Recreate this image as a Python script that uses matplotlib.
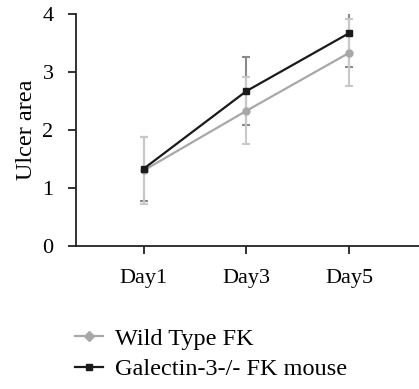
import matplotlib.pyplot as plt
from matplotlib.lines import Line2D

# data
days = ["Day1", "Day3", "Day5"]
wild_type = [1.30, 2.33, 3.33]
wild_type_err = [0.58, 0.58, 0.58]
galectin = [1.33, 2.67, 3.67]
galectin_err = [0.55, 0.58, 0.58]

plt.rcParams['font.family'] = ['Liberation Serif', 'DejaVu Serif']

fig = plt.figure(figsize=(4.19, 3.89), dpi=100)
ax = fig.add_axes([0.181, 0.368, 0.819, 0.596])

x = list(range(len(days)))

# error bars first, wild type on top of galectin ones
ax.errorbar(x, galectin, yerr=galectin_err, fmt='none', ecolor='#8a8a8a',
            elinewidth=1.5, capsize=3, capthick=1.5, zorder=1)
ax.errorbar(x, wild_type, yerr=wild_type_err, fmt='none', ecolor='#c8c8c8',
            elinewidth=1.5, capsize=3, capthick=1.5, zorder=2)
# then lines + markers
ax.plot(x, wild_type, color='#a8a8a8', marker='o', ms=5, lw=1.6, zorder=3)
ax.plot(x, galectin, color='#1a1a1a', marker='s', ms=5, lw=1.6, zorder=4)

ax.set_xlim(-0.66, 2.68)
ax.set_ylim(0, 4)
ax.set_yticks([0, 1, 2, 3, 4])
ax.set_xticks(x)
ax.set_xticklabels(days)
ax.tick_params(labelsize=16, width=1.3, length=6, color='#222222')
ax.tick_params(axis='x', pad=11)
ax.tick_params(axis='y', pad=10)
ax.set_ylabel("Ulcer area", fontsize=17.5, labelpad=4)

for side in ['top', 'right']:
    ax.spines[side].set_visible(False)
for side in ['left', 'bottom']:
    ax.spines[side].set_linewidth(1.3)
    ax.spines[side].set_color('#222222')

handles = [
    Line2D([], [], color='#a8a8a8', marker='D', ms=5, lw=1.6),
    Line2D([], [], color='#1a1a1a', marker='s', ms=5, lw=1.6),
]
fig.legend(handles, ["Wild Type FK", "Galectin-3-/- FK mouse"], loc='upper left',
           bbox_to_anchor=(0.156, 0.183), frameon=False, fontsize=17.5,
           handlelength=1.15, handletextpad=0.5, labelspacing=0.35, borderaxespad=0)

fig.savefig("out.png", dpi=100)
